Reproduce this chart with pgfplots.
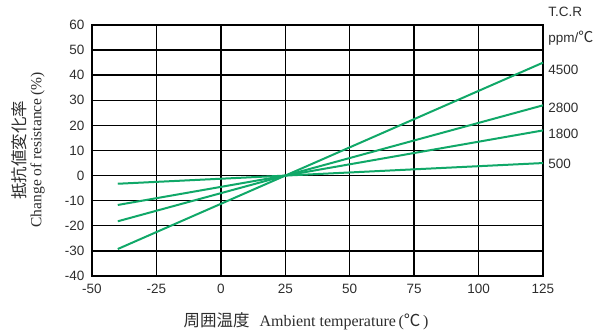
\documentclass[border=0pt]{standalone}
\usepackage{pgfplots}
\pgfplotsset{compat=1.18}
\usepackage{fontspec}
\setmainfont{Liberation Serif}
\setsansfont{Liberation Sans}
\newfontfamily\cjk{Noto Sans CJK JP}
\definecolor{lgreen}{RGB}{16,168,104}
\definecolor{txt}{RGB}{45,45,45}
\begin{document}
\begin{tikzpicture}
\useasboundingbox (-92pt,-54pt) rectangle (522pt,276pt);
\begin{axis}[
  at={(0,0)}, anchor=south west,
  scale only axis, width=451pt, height=251pt,
  xmin=-50, xmax=125, ymin=-40, ymax=60,
  xtick={-50,-25,0,25,50,75,100,125},
  ytick={-40,-30,-20,-10,0,10,20,30,40,50,60},
  major tick length=0pt,
  grid=major,
  major grid style={black, line width=1.4pt},
  axis line style={black, line width=1.8pt},
  tick label style={font=\sffamily\fontsize{13.5}{14}\selectfont, text=txt},
  /pgf/number format/assume math mode=true,
  yticklabel style={xshift=-4pt},
  xticklabel style={yshift=-5pt},
  clip=false,
]
\addplot[lgreen, line width=2pt] coordinates {(-40,-29.25) (125,45)};
\addplot[lgreen, line width=2pt] coordinates {(-40,-18.2) (125,28)};
\addplot[lgreen, line width=2pt] coordinates {(-40,-11.7) (125,18)};
\addplot[lgreen, line width=2pt] coordinates {(-40,-3.25) (125,5)};
\begin{scope}[every node/.style={anchor=west, text=txt, font=\sffamily\fontsize{13.5}{14}\selectfont, inner sep=0pt}]
\node at (axis cs:127,42.3) {4500};
\node at (axis cs:127,27) {2800};
\node at (axis cs:127,16.6) {1800};
\node at (axis cs:127,4.6) {500};
\node at (axis cs:127,65.2) {T.C.R};
\node at (axis cs:127,54.8) {ppm/{\cjk\fontsize{15}{16}\selectfont ℃}};
\end{scope}
\end{axis}
\node[rotate=90, text=txt, anchor=center, align=center, inner sep=0pt] at (-64pt,126pt)
  {{\cjk\fontsize{16.5}{17}\selectfont 抵抗値変化率}\\[3pt]{\fontsize{15.5}{17}\selectfont Change of resistance\,(\%)}};
\node[text=txt, anchor=center, inner sep=0pt] at (214pt,-45pt)
  {{\cjk\fontsize{16.5}{17}\selectfont 周囲温度}\hspace{10pt}{\fontsize{16}{17}\selectfont Ambient temperature\,(}{\cjk\fontsize{16.5}{17}\selectfont ℃}{\fontsize{16}{17}\selectfont \,)}};
\end{tikzpicture}
\end{document}
